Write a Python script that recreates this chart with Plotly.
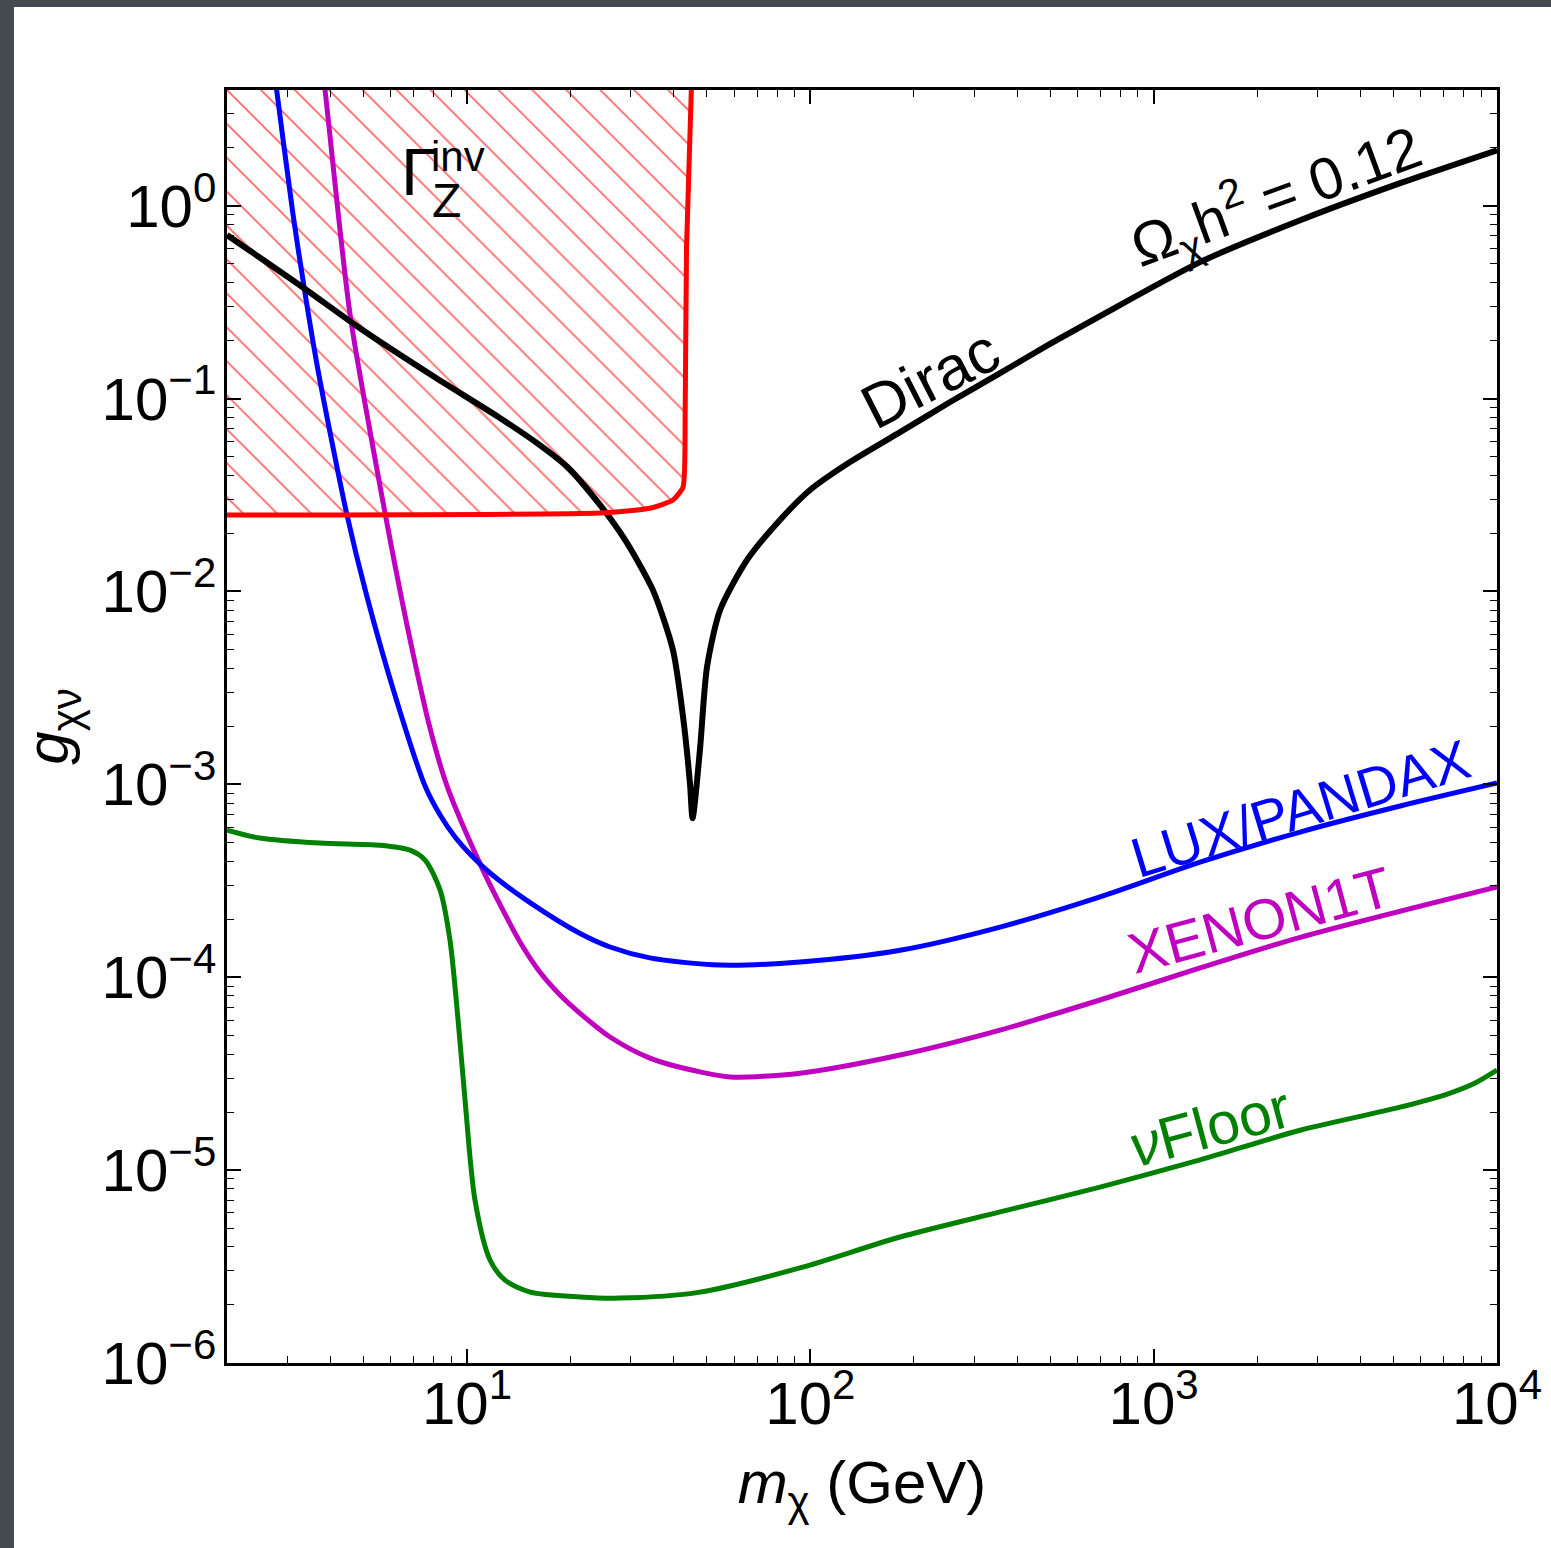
import plotly.graph_objects as go

# ---------------- data ----------------
dirac_m = [2.0, 3.26, 4.88, 7.96, 12.5, 16.3, 19.6, 24.4, 28.9, 34.8, 39.8, 42.6, 44.6, 45.4,
           47.7, 50.0, 54.6, 65.4, 80.0, 99.8, 130.5, 182.6, 255.4, 357, 499, 698, 1365, 2671,
           5224, 10000]
dirac_g = [0.705, 0.387, 0.2316, 0.131, 0.0792, 0.0574, 0.0442, 0.0281, 0.01845, 0.01016,
           0.00497, 0.00223, 0.001016, 0.000668, 0.00151, 0.00405, 0.00802, 0.01456, 0.0226,
           0.0336, 0.0469, 0.067, 0.096, 0.1355, 0.192, 0.268, 0.510, 0.841, 1.31, 1.94]

lux_m = [2.51, 2.79, 3.11, 3.375, 3.65, 4.07, 4.46, 5.08, 6.17, 7.55, 8.35, 9.23, 10.2, 11.67,
         15.3, 21.3, 26.1, 34.1, 54.6, 93.3, 182.6, 357, 698, 1365, 2671, 5224, 10000]
lux_g = [16.6, 3.98, 0.916, 0.352, 0.153, 0.0561, 0.02546, 0.00982, 0.0029, 0.00098,
         6.93e-4, 5.33e-4, 4.35e-4, 3.47e-4, 2.43e-4, 1.69e-4, 1.435e-4, 0.000126, 0.0001156,
         0.00012, 0.000138, 1.82e-4, 2.61e-4, 3.95e-4, 5.66e-4, 7.72e-4, 1.016e-3]

xenon_m = [3.52, 3.86, 4.56, 5.32, 6.05, 6.83, 7.80, 8.75, 11.06, 12.5, 14.27, 16.3, 18.67, 21.3,
           26.1, 34.1, 47.7, 58.4, 93.3, 182.6, 357, 698, 1365, 2671, 10000]
xenon_g = [16.6, 3.98, 0.277, 0.0561, 0.0164, 0.0056, 0.00196, 0.00098, 0.000368, 0.000237,
           1.522e-4, 1.064e-4, 8.09e-5, 6.52e-5, 4.9e-5, 3.81e-5, 3.23e-5, 3.04e-5, 3.18e-5,
           3.95e-5, 5.32e-5, 7.62e-5, 1.117e-4, 1.61e-4, 2.94e-4]

nu_m = [2.0, 2.49, 3.73, 5.58, 6.83, 7.55, 8.35, 8.92, 9.42, 9.87, 10.55, 11.67, 12.9, 15.3,
        21.3, 27.9, 47.7, 93.3, 182.6, 357, 698, 1365, 2671, 5224, 7303, 8638, 10000]
nu_g = [5.79e-4, 5.27e-4, 4.96e-4, 4.84e-4, 4.56e-4, 4.05e-4, 2.83e-4, 1.56e-4, 6.0e-5, 2.31e-5,
        7.0e-6, 3.42e-6, 2.69e-6, 2.33e-6, 2.20e-6, 2.17e-6, 2.33e-6, 3.11e-6, 4.5e-6, 6.07e-6,
        8.17e-6, 1.13e-5, 1.61e-5, 2.12e-5, 2.51e-5, 2.83e-5, 3.30e-5]

# invisible-Z-width excluded region boundary
gz_m = [2.0, 24.4, 34.1, 39.8, 42.6, 43.2, 43.6, 45.2]
gz_g = [0.0249, 0.0255, 0.0270, 0.0298, 0.0348, 0.084, 0.61, 5.0]

x_tickvals = [10, 100, 1000, 10000]
x_ticktext = ["10<sup>1</sup>", "10<sup>2</sup>", "10<sup>3</sup>", "10<sup>4</sup>"]
y_tickvals = [1e-6, 1e-5, 1e-4, 1e-3, 1e-2, 1e-1, 1]
y_ticktext = ["10<sup>\u22126</sup>", "10<sup>\u22125</sup>", "10<sup>\u22124</sup>",
              "10<sup>\u22123</sup>", "10<sup>\u22122</sup>", "10<sup>\u22121</sup>",
              "10<sup>0</sup>"]

FONT = "Liberation Sans, Arial, Helvetica, sans-serif"
FS = 60

# minor ticks (2..9 in each decade)
x_minor = [k * 10 ** e for e in range(0, 4) for k in range(2, 10) if 2 <= k * 10 ** e <= 10000]
y_minor = [k * 10.0 ** e for e in range(-6, 1) for k in range(2, 10) if k * 10.0 ** e <= 4]

fig = go.Figure()

# hatched excluded region
fig.add_trace(go.Scatter(
    x=gz_m + [gz_m[0]], y=gz_g + [gz_g[-1]], mode="lines", fill="toself",
    fillcolor="rgba(0,0,0,0)", line=dict(width=0, color="rgba(0,0,0,0)"),
    fillpattern=dict(shape="\\", size=24, solidity=0.07, fgcolor="#ff0000", fgopacity=0.6,
                     bgcolor="rgba(0,0,0,0)"),
    hoverinfo="skip", showlegend=False))

fig.add_trace(go.Scatter(x=nu_m, y=nu_g, mode="lines", line=dict(color="#008000", width=5, shape="spline", smoothing=0.8), showlegend=False))
fig.add_trace(go.Scatter(x=xenon_m, y=xenon_g, mode="lines", line=dict(color="#bf00bf", width=5, shape="spline", smoothing=0.8), showlegend=False))
fig.add_trace(go.Scatter(x=lux_m, y=lux_g, mode="lines", line=dict(color="#0000ff", width=5, shape="spline", smoothing=0.8), showlegend=False))
fig.add_trace(go.Scatter(x=dirac_m, y=dirac_g, mode="lines", line=dict(color="#000000", width=6, shape="spline", smoothing=0.7), showlegend=False))
fig.add_trace(go.Scatter(x=gz_m, y=gz_g, mode="lines", line=dict(color="#ff0000", width=5, shape="spline", smoothing=0.5), showlegend=False))

L, R, T, B = 227, 54, 90, 185
W, H = 1551, 1548
pw, ph = W - L - R, H - T - B

def px(x):
    return (x - L) / pw

def py(y):
    return (H - B - y) / ph

# dark frame behind a white panel
fig.add_shape(type="rect", xref="paper", yref="paper", x0=px(14), x1=px(1560), y0=py(1560), y1=py(7),
              fillcolor="white", line=dict(width=0), layer="below")

def ann(text, x, y, size, color="black", angle=0):
    fig.add_annotation(text=text, xref="paper", yref="paper", x=px(x), y=py(y), showarrow=False,
                       font=dict(family=FONT, size=size, color=color), textangle=angle,
                       xanchor="center", yanchor="middle")

ann("\u0393", 419, 172, 66)
ann("inv", 458, 156, 42)
ann("Z", 446, 200, 48)
ann("Dirac", 930, 379, 62, angle=-27)
ann("\u03a9<sub>\u03c7</sub>h<sup>2</sup> = 0.12", 1276, 196, 59, angle=-20)
ann("LUX/PANDAX", 1300, 808, 56, color="#0000ff", angle=-17)
ann("XENON1T", 1259, 920, 57, color="#bf00bf", angle=-15)
ann("<i>\u03bd</i>Floor", 1210, 1127, 59, color="#008000", angle=-15)

axis_common = dict(type="log", showgrid=False, zeroline=False, showline=True, linecolor="black",
                   linewidth=2.5, mirror="allticks", ticks="inside", ticklen=14, tickwidth=1.5,
                   tickcolor="black", tickfont=dict(family=FONT, size=FS, color="black"))

fig.update_xaxes(range=[0.30103, 4], tickvals=x_tickvals, ticktext=x_ticktext, ticklabelstandoff=-14,
                 minor=dict(tickvals=x_minor, ticks="inside", ticklen=7, tickwidth=1.2, tickcolor="black"),
                 title=dict(text="<i>m</i><sub>\u03c7</sub> (GeV)", font=dict(family=FONT, size=FS, color="black"), standoff=26),
                 **axis_common)
fig.update_yaxes(range=[-6, 0.6], tickvals=y_tickvals, ticktext=y_ticktext, ticklabelstandoff=-4,
                 minor=dict(tickvals=y_minor, ticks="inside", ticklen=7, tickwidth=1.2, tickcolor="black"),
                 title=dict(text="<i>g</i><sub>\u03c7\u03bd</sub>", font=dict(family=FONT, size=FS, color="black"), standoff=14),
                 **axis_common)

fig.update_layout(width=W, height=H, margin=dict(l=L, r=R, t=T, b=B, autoexpand=False),
                  paper_bgcolor="#434b51", plot_bgcolor="white", showlegend=False)

fig.write_html("out.html", config={"displayModeBar": False},
               post_script="document.body.style.margin='0';document.body.style.padding='0';")
